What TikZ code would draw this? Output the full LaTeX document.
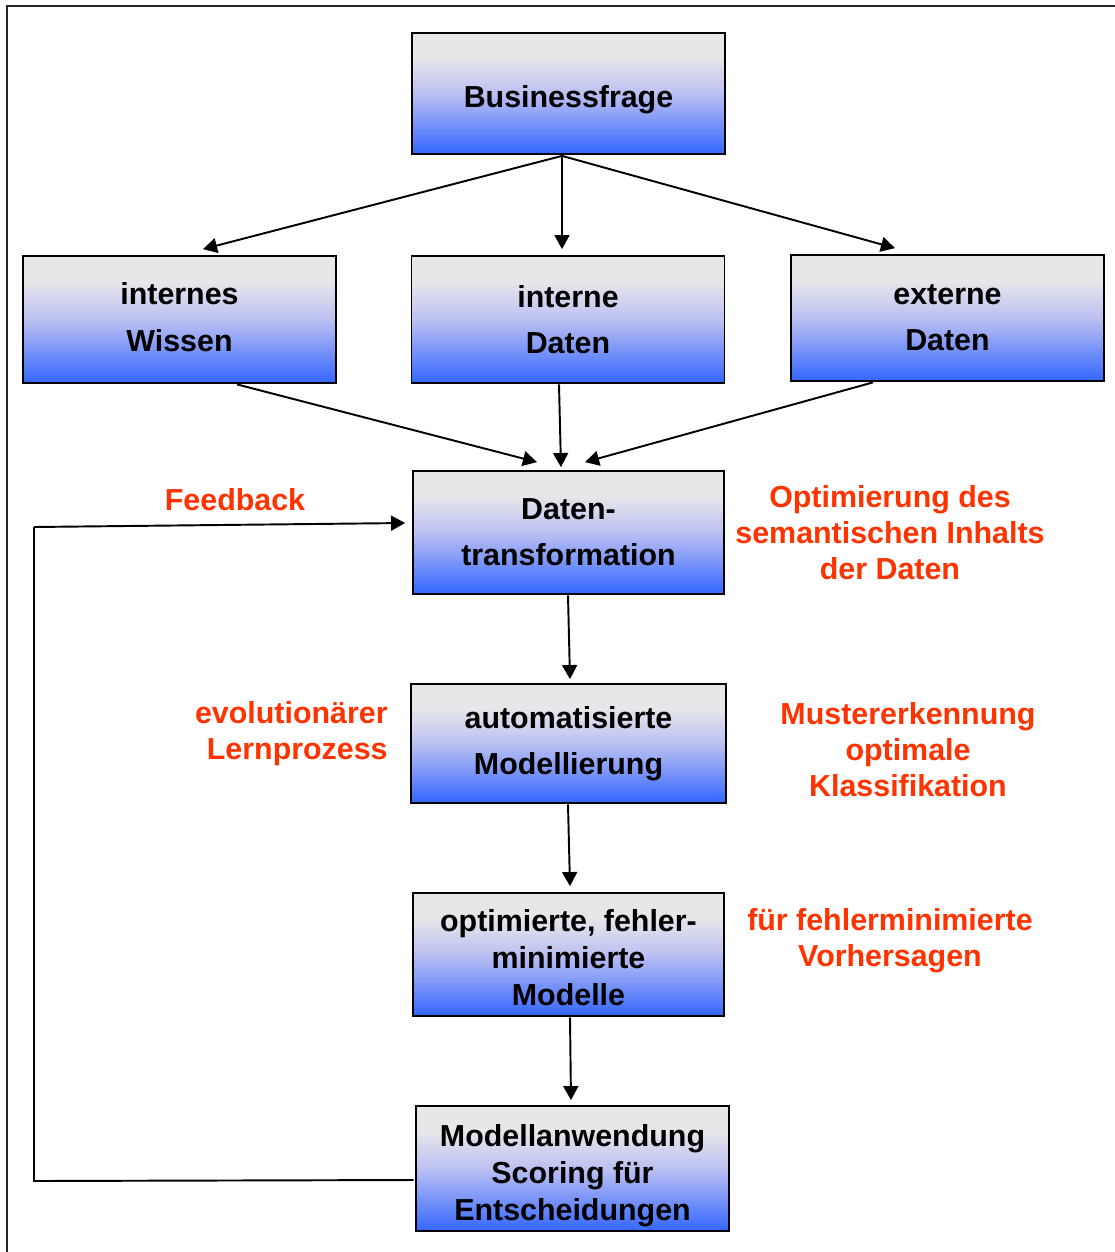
\documentclass[tikz,border=0pt]{standalone}
\usepackage{fontspec}
\setmainfont{Liberation Sans}
\usetikzlibrary{arrows.meta,calc}
\definecolor{myblue}{RGB}{51,102,255}
\definecolor{mymid}{RGB}{188,192,242}
\definecolor{mygray}{RGB}{231,231,234}
\definecolor{myred}{RGB}{255,51,0}
\pgfdeclareverticalshading{boxshade}{100bp}{color(0bp)=(myblue); color(25bp)=(myblue); color(50bp)=(mymid); color(65bp)=(mygray); color(100bp)=(mygray)}
\def\pu{0.02cm}
\tikzset{
  flowbox/.style={draw=black, line width=1pt, shading=boxshade, minimum width=313*\pu, minimum height=124*\pu, inner sep=0pt, align=center, font=\bfseries\fontsize{17.3}{26}\selectfont},
  tallbox/.style={flowbox, font=\bfseries\fontsize{17.3}{21}\selectfont},
  boxtext/.style={inner sep=0pt, align=center, font=\bfseries\fontsize{17.3}{21}\selectfont},
  boxtextwide/.style={inner sep=0pt, align=center, font=\bfseries\fontsize{17.3}{26.5}\selectfont},
  redlabel/.style={text=myred, align=center, inner sep=0pt, font=\bfseries\fontsize{17.3}{20.5}\selectfont},
  conn/.style={line width=1.1pt, -{Triangle[length=8pt,width=8.5pt]}},
  plain/.style={line width=1.1pt}
}
\begin{document}
\begin{tikzpicture}[x=0.02cm,y=-0.02cm]
\useasboundingbox (0,0) rectangle (1115,1252);
% outer frame (right and bottom edges lie outside the picture)
\draw[line width=1.4pt, black!85] (7,1260) -- (7,6) -- (1125,6);

\node[flowbox, minimum height=121*\pu, label={[boxtext, yshift=-6*\pu]center:Businessfrage}] (bf) at (568.5,93.5) {};
\node[flowbox, minimum height=127*\pu, label={[boxtextwide, yshift=2.5*\pu]center:internes\\Wissen}] (iw) at (179.5,319.5) {};
\node[flowbox, minimum height=127*\pu] (id) at (568,319.5) {interne\\Daten};
\node[flowbox, minimum height=126*\pu] (ed) at (947.5,318) {externe\\Daten};
\node[flowbox, minimum height=123*\pu, minimum width=311*\pu] (dt) at (568.5,532.5) {Daten-\\transformation};
\node[flowbox, minimum height=119*\pu, minimum width=315*\pu] (am) at (568.5,743.5) {automatisierte\\Modellierung};
\node[tallbox, minimum height=123*\pu, minimum width=311*\pu, label={[boxtext, yshift=-3.5*\pu]center:optimierte, fehler-\\minimierte\\Modelle}] (om) at (568.5,954.5) {};
\node[tallbox, minimum height=125*\pu, label={[boxtext, yshift=-7*\pu]center:Modellanwendung\\Scoring für\\Entscheidungen}] (ma) at (572.5,1168.5) {};

% top fan-out
\draw[conn] ($(bf.south)+(-6.5,1)$) -- ($(iw.north)+(23.5,-6)$);
\draw[conn] ($(bf.south)+(-6.5,1)$) -- ($(id.north)+(-6,-6)$);
\draw[conn] ($(bf.south)+(-6.5,1)$) -- ($(ed.north)+(-52.5,-6)$);
% fan-in
\draw[conn] ($(iw.south)+(57.5,0.5)$) -- ($(dt.north)+(-31.5,-8)$);
\draw[conn] ($(id.south)+(-9,0.5)$) -- ($(dt.north)+(-7.5,-3)$);
\draw[conn] ($(ed.south)+(-74.5,0.5)$) -- ($(dt.north)+(16.5,-8)$);
% chain
\draw[conn] ($(dt.south)+(-0.5,0.5)$) -- ($(am.north)+(1.5,-4)$);
\draw[conn] ($(am.south)+(-0.5,0.5)$) -- ($(om.north)+(1.5,-6)$);
\draw[conn] ($(om.south)+(1.5,0.5)$) -- ($(ma.north)+(-1.5,-5)$);
% feedback loop
\coordinate (fb1) at (34,1181);
\coordinate (fb2) at (34,527);
\draw[plain] ($(ma.west)+(-1.5,11.5)$) -- (fb1) -- (fb2);
\draw[conn] (fb2) -- ($(dt.west)+(-7,-9.5)$);

% red labels
\node[redlabel] (lfb) at (235,500) {Feedback};
\node[redlabel] (lopt) at (890,533) {Optimierung des\\semantischen Inhalts\\der Daten};
\node[redlabel, align=right, anchor=east] (levo) at (388,733.5) {evolutionärer\\Lernprozess};
\node[redlabel] (lmus) at (908,750) {Mustererkennung\\optimale\\Klassifikation};
\node[redlabel] (lfuer) at (890,941) {für fehlerminimierte\\Vorhersagen};
\end{tikzpicture}
\end{document}
